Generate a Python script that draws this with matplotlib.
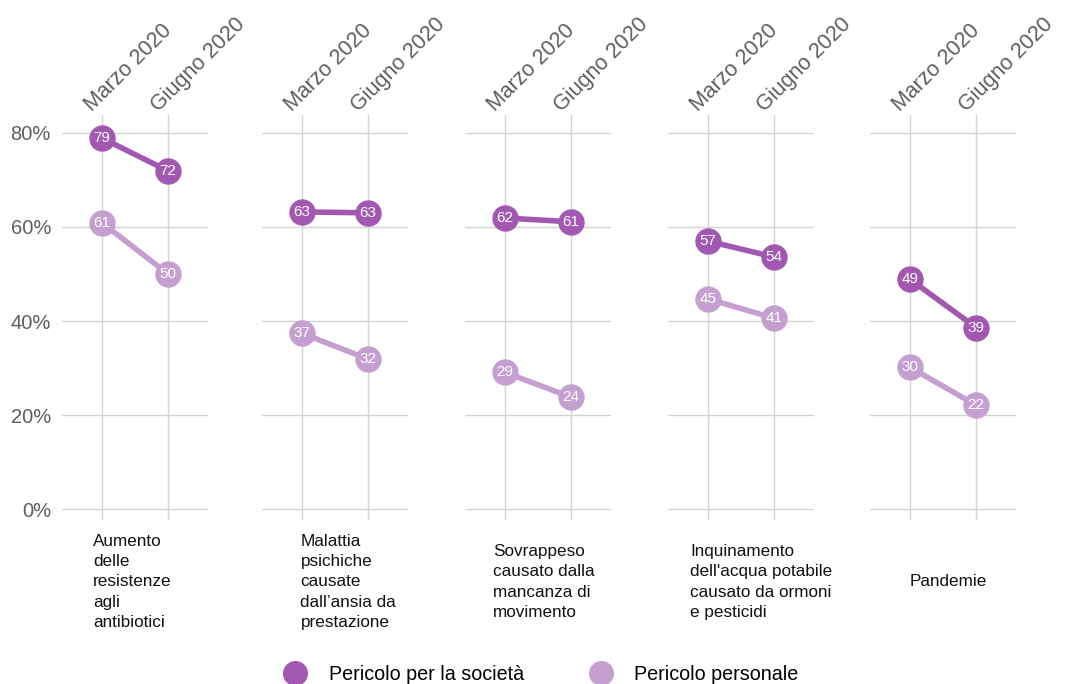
import numpy as np
import matplotlib
matplotlib.use('Agg')
import matplotlib.pyplot as plt
from matplotlib.lines import Line2D
from matplotlib.transforms import offset_copy, blended_transform_factory

periods = ['Marzo 2020', 'Giugno 2020']
categories = [
    'Aumento\ndelle\nresistenze\nagli\nantibiotici',
    'Malattia\npsichiche\ncausate\ndall\u2019ansia da\nprestazione',
    'Sovrappeso\ncausato dalla\nmancanza di\nmovimento',
    "Inquinamento\ndell'acqua potabile\ncausato da ormoni\ne pesticidi",
    'Pandemie',
]
societa = [[78.9, 71.9], [63.2, 63.0], [61.9, 61.1], [57.0, 53.6], [48.9, 38.6]]
personale = [[60.9, 50.0], [37.4, 31.9], [29.1, 23.8], [44.7, 40.6], [30.2, 22.1]]
series_names = ['Pericolo per la societ\u00e0', 'Pericolo personale']

dark = '#a258b1'
light = '#c59fd0'
grid_c = '#d3d3d3'
tick_c = '#5e5e5e'

plt.rcParams['font.family'] = ['Liberation Sans', 'DejaVu Sans']

W, H = 1069, 684
fig = plt.figure(figsize=(W / 100, H / 100), dpi=100)

panel_left = [62, 262, 465, 668, 870]
panel_w = 146
ax_top, ax_bottom = 115, 520
label_dx = [-0.13, -0.02, -0.18, -0.27, 0.0]

x = np.arange(len(periods))
for i, cat in enumerate(categories):
    ax = fig.add_axes([panel_left[i] / W, 1 - ax_bottom / H,
                       panel_w / W, (ax_bottom - ax_top) / H])
    ax.set_xlim(-0.6, 1.6)
    ax.set_ylim(-2.3, 83.8)
    ax.set_yticks([0, 20, 40, 60, 80])
    ax.set_xticks(x)
    ax.grid(True, color=grid_c, lw=1)
    ax.set_axisbelow(True)
    for s in ax.spines.values():
        s.set_visible(False)
    ax.tick_params(length=0, labelbottom=False)
    if i == 0:
        ax.set_yticks([0, 20, 40, 60, 80], ['0%', '20%', '40%', '60%', '80%'])
        ax.tick_params(axis='y', labelsize=14.5, labelcolor=tick_c, pad=8)
    else:
        ax.tick_params(axis='y', labelleft=False)

    for vals, col in [(personale[i], light), (societa[i], dark)]:
        ax.plot(x, vals, color=col, lw=4, marker='o', ms=18,
                solid_capstyle='round', zorder=3)
        for xi, v in zip(x, vals):
            ax.text(xi, v, f'{round(v)}', color='white', fontsize=11,
                    ha='center', va='center', zorder=4)

    trans = offset_copy(ax.get_xaxis_transform(), fig=fig, x=-10, y=3, units='dots')
    for xi, p in zip(x, periods):
        ax.text(xi, 1, p, transform=trans, rotation=45, rotation_mode='anchor',
                ha='left', va='baseline', fontsize=15.5, color=tick_c)

    ax.text(label_dx[i], -(582 - ax_bottom) / (ax_bottom - ax_top), cat,
            transform=blended_transform_factory(ax.transData, ax.transAxes),
            ha='left', va='center', fontsize=12.3, linespacing=1.45, color='#111111')

handles = [Line2D([], [], ls='', marker='o', ms=17, color=dark),
           Line2D([], [], ls='', marker='o', ms=17, color=light)]
fig.legend(handles, series_names, loc='center', ncol=2,
           bbox_to_anchor=(542 / W, 10 / H), frameon=False, fontsize=14.2,
           handletextpad=1.2, columnspacing=3.4, handlelength=1.0)

fig.savefig('out.png', dpi=100)
